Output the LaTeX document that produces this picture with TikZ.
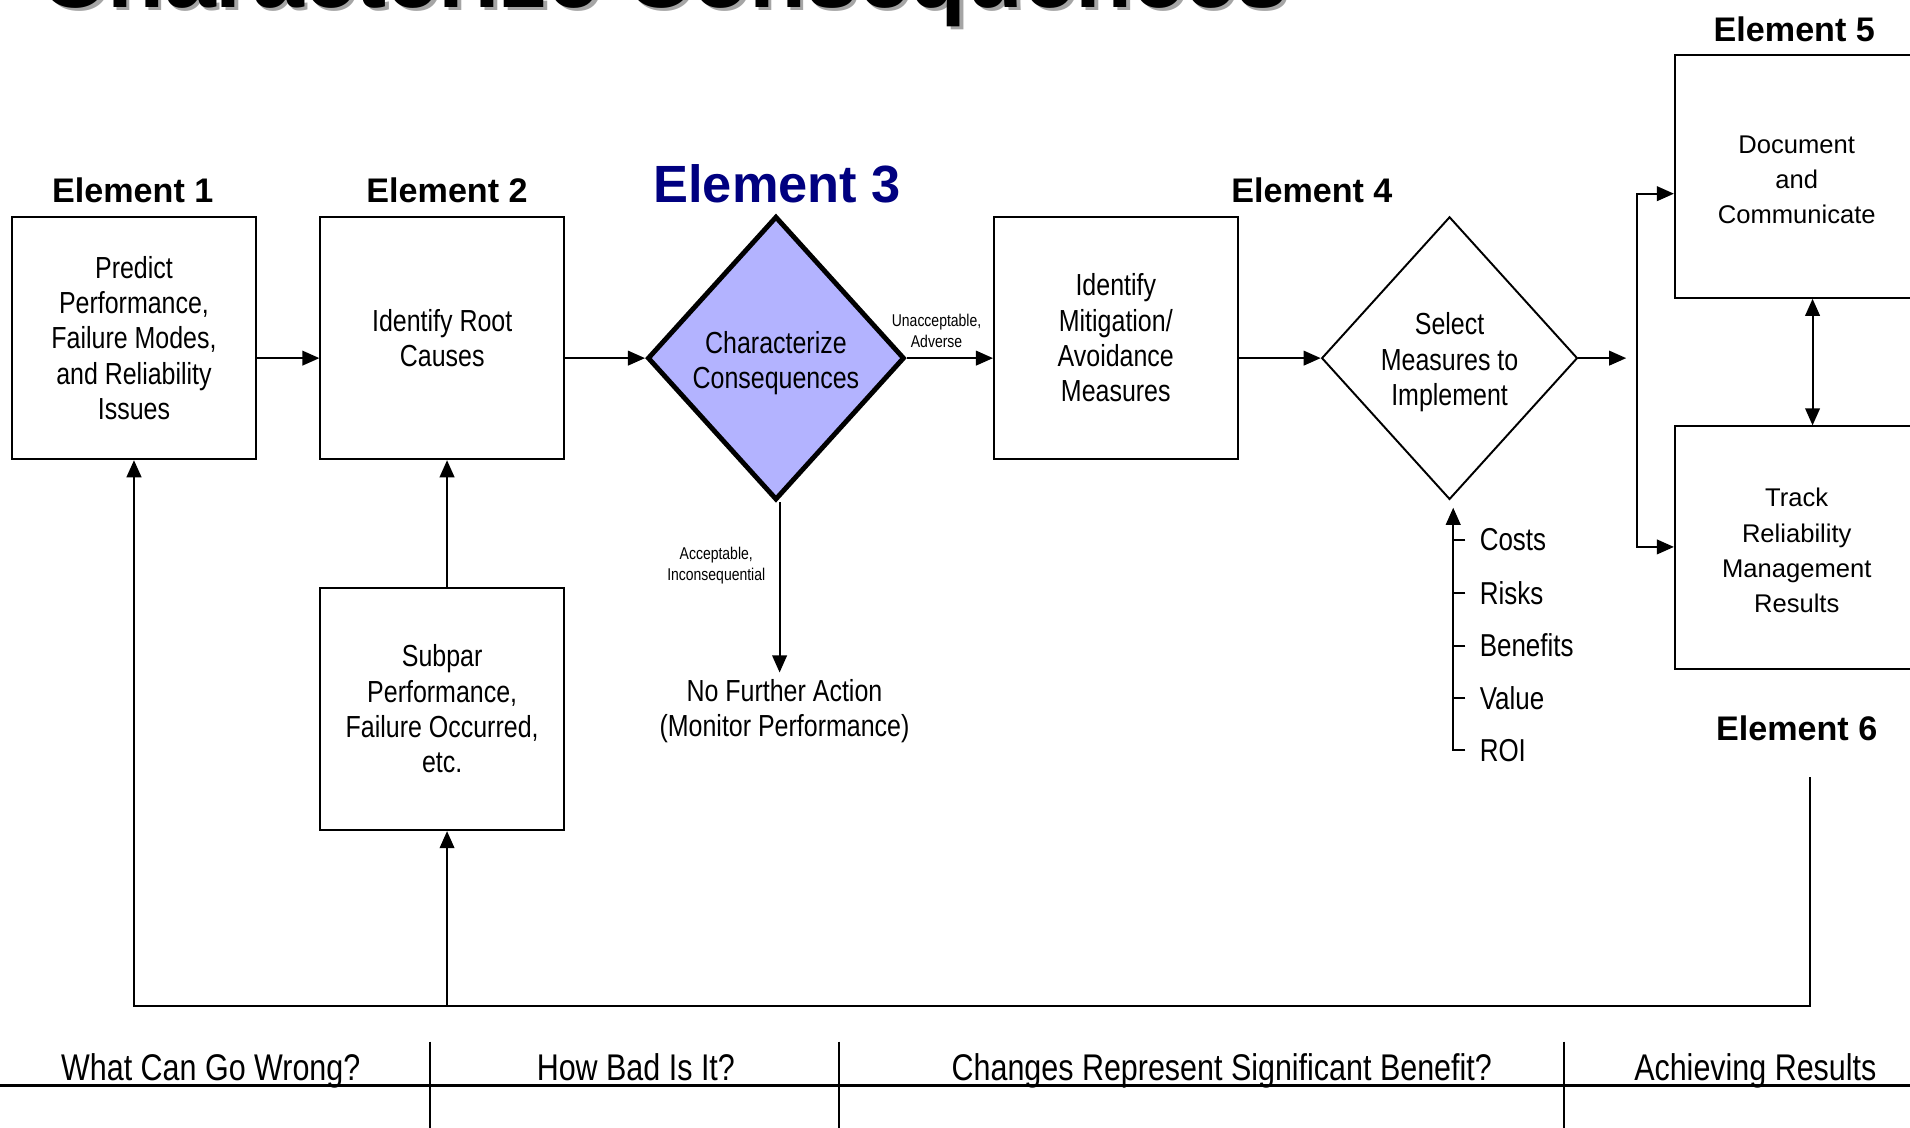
\documentclass[tikz,border=0pt]{standalone}
\usepackage{fontspec}
\setmainfont{Liberation Sans}
\newfontfamily\narrowsans[FakeStretch=0.82]{Liberation Sans}
\usetikzlibrary{arrows.meta,shapes.geometric,calc}
\definecolor{navyhead}{RGB}{0,0,128}
\definecolor{lavender}{RGB}{179,179,255}
\definecolor{shadowgray}{RGB}{165,165,165}
\newcommand{\fsz}[2]{\fontsize{#1}{#2}\selectfont}

\begin{document}
\begin{tikzpicture}[x=1pt,y=-1pt,
  >={Triangle[length=14pt,width=12pt]},
  line width=1.6pt,
  stepbox/.style={draw,rectangle,minimum width=200pt,minimum height=199pt,
    inner sep=0pt,align=center,font=\narrowsans\fsz{25}{29}},
  widebox/.style={stepbox,font=\fsz{21}{29}},
  decision/.style={draw,diamond,inner sep=0pt,align=center,
    font=\narrowsans\fsz{25}{29}},
  elabel/.style={font=\bfseries\fsz{28}{32},inner sep=0pt},
  edgenote/.style={font=\narrowsans\fsz{14}{17},align=center,inner sep=0pt},
  freetext/.style={font=\narrowsans\fsz{25}{29},align=center,inner sep=0pt},
  listitem/.style={font=\narrowsans\fsz{26}{30},anchor=west,inner sep=0pt},
  colhead/.style={font=\narrowsans\fsz{30.5}{34},anchor=base,inner sep=0pt},
]
\useasboundingbox (0,0) rectangle (1568,926);
\clip (0,0) rectangle (1568,926);
\fill[white] (0,0) rectangle (1568,926);

% page title with drop shadow
\node[font=\bfseries\fsz{76.5}{80},text=shadowgray,anchor=base west,inner sep=0pt]
  (titleshadow) at (35,9) {Characterize Consequences};
\node[font=\bfseries\fsz{76.5}{80},anchor=base west,inner sep=0pt]
  (title) at (32,6) {Characterize Consequences};

% element headings
\node[elabel] (e1) at (109,156) {Element 1};
\node[elabel] (e2) at (367,156) {Element 2};
\node[elabel,font=\bfseries\fsz{43}{46},text=navyhead] (e3) at (638,151) {Element 3};
\node[elabel] (e4) at (1077,156) {Element 4};
\node[elabel] (e5) at (1473,24) {Element 5};
\node[elabel] (e6) at (1475,598) {Element 6};

% process steps
\node[stepbox] (b1) at (110,277.5) {Predict\\Performance,\\Failure Modes,\\and Reliability\\Issues};
\node[stepbox] (b2) at (363,277.5) {Identify Root\\Causes};
\node[decision,fill=lavender,line width=4pt,minimum width=211pt,minimum height=233pt,
  text height=55.3pt,text depth=5.2pt]
  (d3) at (637,294) {Characterize\\Consequences};
\node[stepbox] (b4) at (916,277.5) {Identify\\Mitigation/\\Avoidance\\Measures};
\node[decision,minimum width=210pt,minimum height=232pt,
  text height=83.2pt,text depth=5.2pt]
  (d4) at (1190,294) {Select\\Measures to\\Implement};
\node[widebox,text height=77.3pt,text depth=0pt] (b5) at (1475,145)
  {Document\\and\\Communicate};
\node[widebox,text height=107.3pt,text depth=0pt] (b6) at (1475,449.5)
  {Track\\Reliability\\Management\\Results};
\node[stepbox] (b7) at (363,582) {Subpar\\Performance,\\Failure Occurred,\\etc.};
\node[freetext] (nfa) at (644,584) {No Further Action\\(Monitor Performance)};

% main flow
\draw[->] (b1.east |- d3.center) -- (b2.west |- d3.center);
\draw[->] (b2.east |- d3.center) -- (d3.west);
\draw[->] (d3.east) -- (b4.west |- d3.center)
  node[edgenote,midway,anchor=south,xshift=-11pt,yshift=8pt] {Unacceptable,\\Adverse};
\draw[->] (b4.east |- d4.center) -- (d4.west);
\coordinate (fork) at (1335,294);
\draw[->] (d4.east) -- (fork);

% branch to elements 5 and 6
\coordinate (ftop) at (1344,159);
\coordinate (fbot) at (1344,449);
\draw[<->] (ftop -| b5.west) -- (ftop) -- (fbot) -- (fbot -| b6.west);
\draw[<->] ([xshift=13pt]b5.south) -- ([xshift=13pt]b6.north);

% acceptable outcome
\draw[->,shorten >=5pt] ([xshift=3pt]d3.south) -- ([xshift=3pt]d3.south |- nfa.north)
  node[edgenote,pos=0.36,anchor=east,xshift=-11pt] {Acceptable,\\Inconsequential};

% selection criteria
\node[listitem] (costs) at (1214,443) {Costs};
\node[listitem] (risks) at (1214,487) {Risks};
\node[listitem] (benefits) at (1214,530) {Benefits};
\node[listitem] (value) at (1214,573) {Value};
\node[listitem] (roi) at (1214,616) {ROI};
\coordinate (listbot) at (1193,616);
\draw[->,shorten >=6pt] ([xshift=-11pt]roi.west) -- (listbot) -- (listbot |- d4.south);
\foreach \n in {costs,risks,benefits,value}
  \draw ([xshift=-11pt]\n.west) -- ([xshift=-21pt]\n.west);

% feedback loop
\coordinate (fbstart) at (1486,638);
\coordinate (fbcorner) at (1486,826);
\draw[->,line width=2pt] (fbstart) -- (fbcorner) -- (fbcorner -| b1.south) -- (b1.south);
\draw[->] ([xshift=4pt]b7.south |- fbcorner) -- ([xshift=4pt]b7.south);
\draw[->] ([xshift=4pt]b7.north) -- ([xshift=4pt]b2.south);

% question table along the bottom
\draw[line width=2.4pt] (0,891) -- (1568,891);
\foreach \x in {353,689,1284} \draw (\x,855) -- (\x,926);
\node[colhead] (q1) at (173,887) {What Can Go Wrong?};
\node[colhead] (q2) at (522,887) {How Bad Is It?};
\node[colhead] (q3) at (1003,887) {Changes Represent Significant Benefit?};
\node[colhead] (q4) at (1441,887) {Achieving Results};
\end{tikzpicture}
\end{document}
